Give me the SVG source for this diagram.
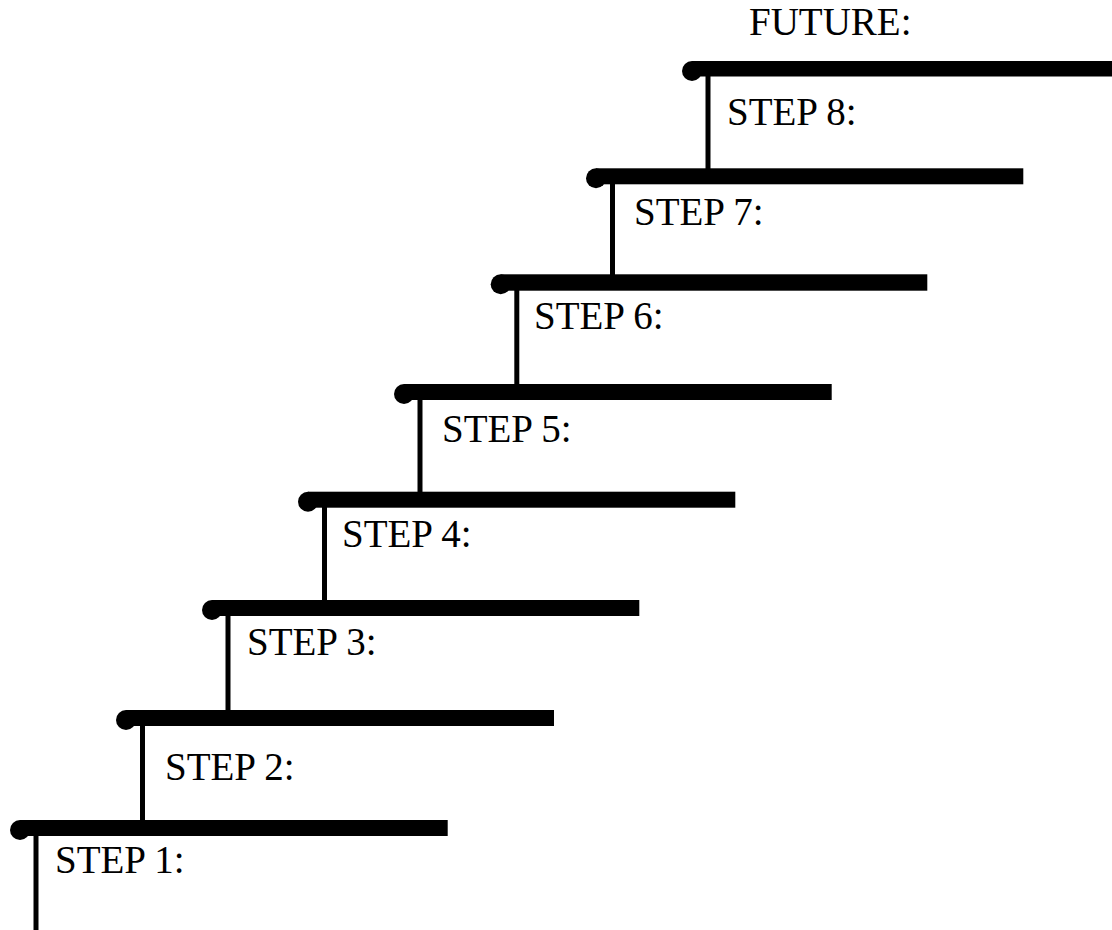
<svg xmlns="http://www.w3.org/2000/svg" width="1112" height="930" viewBox="0 0 1112 930">
  <style>
    .tread { fill: #000; }
    .nose { fill: #000; }
    .riser { stroke: #000; stroke-width: 5; fill: none; }
    .label { font-family: "Liberation Serif", "Times New Roman", serif; font-size: 39px; fill: #000; }
  </style>
  <rect width="1112" height="930" fill="#fff"/>

  <!-- risers joining each tread to the one above -->
  <g id="connectors">
    <line class="riser" x1="36" y1="830" x2="36" y2="930"/>
    <line class="riser" x1="142.5" y1="720" x2="142.5" y2="822"/>
    <line class="riser" x1="228" y1="610" x2="228" y2="712"/>
    <line class="riser" x1="324.5" y1="501" x2="324.5" y2="602"/>
    <line class="riser" x1="420" y1="394" x2="420" y2="494"/>
    <line class="riser" x1="516.8" y1="284" x2="516.8" y2="386"/>
    <line class="riser" x1="612.5" y1="178" x2="612.5" y2="276"/>
    <line class="riser" x1="708" y1="70" x2="708" y2="170"/>
  </g>

  <g id="step1">
    <circle class="nose" cx="20" cy="830" r="10"/>
    <rect class="tread" x="20" y="820" width="427.7" height="16"/>
    <text class="label" x="55" y="873">STEP 1:</text>
  </g>
  <g id="step2">
    <circle class="nose" cx="126" cy="720" r="10"/>
    <rect class="tread" x="126" y="710" width="428" height="16"/>
    <text class="label" x="165" y="780">STEP 2:</text>
  </g>
  <g id="step3">
    <circle class="nose" cx="212" cy="610" r="10"/>
    <rect class="tread" x="212" y="600" width="427.3" height="16"/>
    <text class="label" x="247" y="655">STEP 3:</text>
  </g>
  <g id="step4">
    <circle class="nose" cx="308" cy="501.7" r="10"/>
    <rect class="tread" x="308" y="491.7" width="427.3" height="16"/>
    <text class="label" x="342" y="547">STEP 4:</text>
  </g>
  <g id="step5">
    <circle class="nose" cx="404" cy="394" r="10"/>
    <rect class="tread" x="404" y="384" width="427.7" height="16"/>
    <text class="label" x="442" y="442">STEP 5:</text>
  </g>
  <g id="step6">
    <circle class="nose" cx="500.7" cy="284.3" r="10"/>
    <rect class="tread" x="500.7" y="274.3" width="426.6" height="16.4"/>
    <text class="label" x="534" y="329">STEP 6:</text>
  </g>
  <g id="step7">
    <circle class="nose" cx="596" cy="178.3" r="10"/>
    <rect class="tread" x="596" y="168.3" width="427.3" height="16"/>
    <text class="label" x="634" y="225">STEP 7:</text>
  </g>
  <g id="step8">
    <circle class="nose" cx="692" cy="71" r="10"/>
    <rect class="tread" x="692" y="61" width="420" height="15.5"/>
    <text class="label" x="727" y="125">STEP 8:</text>
  </g>
  <g id="future">
    <text class="label" x="749" y="35">FUTURE:</text>
  </g>
</svg>
